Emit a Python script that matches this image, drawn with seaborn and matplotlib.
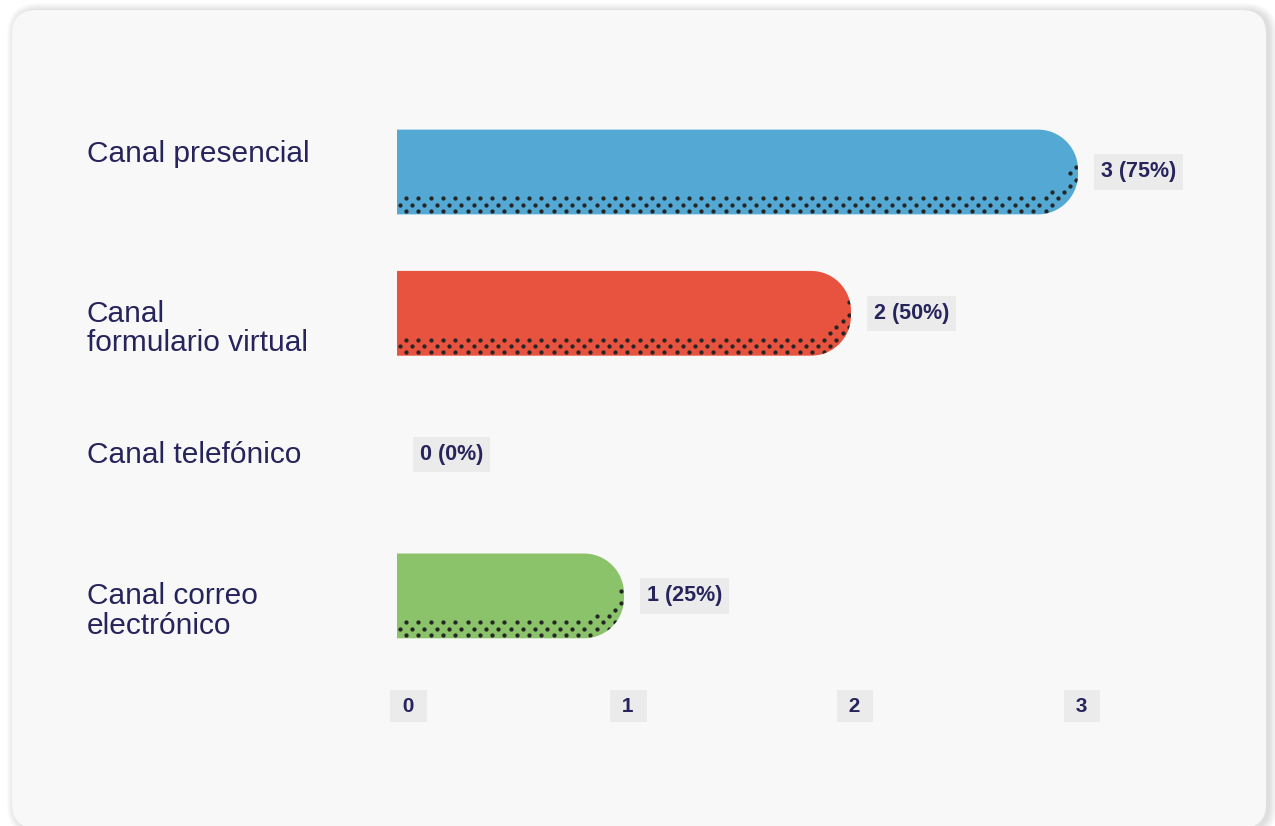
import numpy as np
import pandas as pd
import seaborn as sns
import matplotlib.pyplot as plt
from matplotlib.patches import FancyBboxPatch, Polygon
from matplotlib.path import Path
from matplotlib.transforms import IdentityTransform, blended_transform_factory

# ---- data -------------------------------------------------------------
categories = ["Canal presencial", "Canal\nformulario virtual",
              "Canal telefónico", "Canal correo\nelectrónico"]
counts = [3, 2, 0, 1]
percents = [75, 50, 0, 25]
bar_colors = ["#53a9d3", "#e8533f", "#9e9e9e", "#8bc36a"]
x_ticks = [0, 1, 2, 3]

# ---- layout / style ---------------------------------------------------
NAVY = "#27245c"
BOX = "#ebebeb"
W, H, DPI = 1275, 826, 100
X0_PX, UNIT_PX = 397, 227          # pixel of value 0, pixels per unit
ROW0_PX, ROW_PX = 172, 141.3       # pixel (from top) of first row, row step
label_shift_px = [-18, 15, 0, 15]  # vertical nudge of each category label
CORNER_R = 40                      # rounding radius of bar ends (px)

sns.set_theme(style="white")
plt.rcParams["font.family"] = ["Liberation Sans", "DejaVu Sans"]

fig = plt.figure(figsize=(W / DPI, H / DPI), dpi=DPI)
fig.patch.set_facecolor("white")

# card with a soft shadow
for k in range(1, 9):
    fig.add_artist(FancyBboxPatch(
        (12 - k + 3, -2 - k - 1), 1254 + 2 * k, 818 + 2 * k,
        boxstyle=f"round,pad=0,rounding_size={24 + k}",
        transform=IdentityTransform(), fc="#000000", ec="none",
        alpha=0.014, zorder=0))
fig.add_artist(FancyBboxPatch(
    (12, -2), 1254, 818, boxstyle="round,pad=0,rounding_size=24",
    transform=IdentityTransform(), fc="#f8f8f8", ec="none", zorder=1))

ax = fig.add_axes([0, 0, 1, 1])
ax.patch.set_visible(False)
ax.set_zorder(2)

df = pd.DataFrame({"canal": categories, "valor": counts})
sns.barplot(data=df, x="valor", y="canal", hue="canal", palette=bar_colors,
            width=0.6, orient="h", legend=False, saturation=1, ax=ax)

ax.set_xlim(-X0_PX / UNIT_PX, (W - X0_PX) / UNIT_PX)
ax.set_ylim((H - ROW0_PX) / ROW_PX, -ROW0_PX / ROW_PX)
ax.axis("off")

to_px = ax.transData
to_data = ax.transData.inverted()


def rounded_bar(xl, xr, yb, yt, r):
    """Bar outline in display pixels, square on the left, rounded on the right."""
    r = min(r, (yt - yb) / 2, xr - xl)
    a1 = np.linspace(-np.pi / 2, 0, 24)
    a2 = np.linspace(0, np.pi / 2, 24)
    pts = [(xl, yb)]
    pts += [(xr - r + r * np.cos(a), yb + r + r * np.sin(a)) for a in a1]
    pts += [(xr - r + r * np.cos(a), yt - r + r * np.sin(a)) for a in a2]
    pts += [(xl, yt)]
    return np.array(pts)


# replace the plain rectangles with rounded, dotted bars
for patch in list(ax.patches):
    w = patch.get_width()
    if w <= 0:
        patch.remove()
        continue
    x, y, h = patch.get_x(), patch.get_y(), patch.get_height()
    (ax_, ay), (bx, by) = to_px.transform([(x, y), (x + w, y + h)])
    xl, xr = min(ax_, bx), max(ax_, bx)
    yb, yt = min(ay, by), max(ay, by)
    outline = rounded_bar(xl, xr, yb, yt, CORNER_R)
    poly = Polygon(to_data.transform(outline), closed=True,
                   fc=patch.get_facecolor(), ec="none", zorder=3)
    ax.add_patch(poly)
    patch.remove()

    # dotted band: bar minus a copy of itself lifted by 20 px
    bar_path = Path(outline)
    lifted = Path(outline + np.array([-4, 20]))
    dots = []
    k = 0
    yy = yb + 3.3
    while yy < yt:
        xx = xl + (9 if k % 2 == 0 else 2.8)
        while xx < xr + 2:
            if bar_path.contains_point((xx, yy)) and \
                    not lifted.contains_point((xx, yy + 1.2)):
                dots.append((xx, yy))
            xx += 12.3
        yy += 6.3
        k += 1
    if dots:
        d = to_data.transform(np.array(dots))
        sc = ax.scatter(d[:, 0], d[:, 1], s=9.5, c="#262626",
                        linewidths=0, zorder=4)
        sc.set_clip_path(poly)

# value labels
for i, (c, p) in enumerate(zip(counts, percents)):
    ax.annotate(f"{c} ({p}%)", xy=(c, i), xytext=(23 * 72 / DPI, 0),
                textcoords="offset points", ha="left", va="center",
                fontsize=15.5, fontweight="bold", color=NAVY, zorder=5,
                bbox=dict(boxstyle="square,pad=0.33", fc=BOX, ec="none"))

# category labels
lab_tr = blended_transform_factory(ax.transAxes, ax.transData)
for i, (cat, sh) in enumerate(zip(categories, label_shift_px)):
    ax.text(87 / W, i + sh / ROW_PX, cat, transform=lab_tr, ha="left",
            va="center", fontsize=21.5, color=NAVY, linespacing=1.06)

# x tick labels
tick_tr = blended_transform_factory(ax.transData, ax.transAxes)
for t in x_ticks:
    ax.annotate(f" {t} ", xy=(t, 1 - 706 / H), xycoords=tick_tr,
                xytext=(0 if t == 0 else 4 * 72 / DPI, 0),
                textcoords="offset points",
                ha="left" if t == 0 else "center", va="center",
                fontsize=15, fontweight="bold", color=NAVY,
                bbox=dict(boxstyle="square,pad=0.33", fc=BOX, ec="none"))

fig.savefig("out.png", dpi=DPI)
